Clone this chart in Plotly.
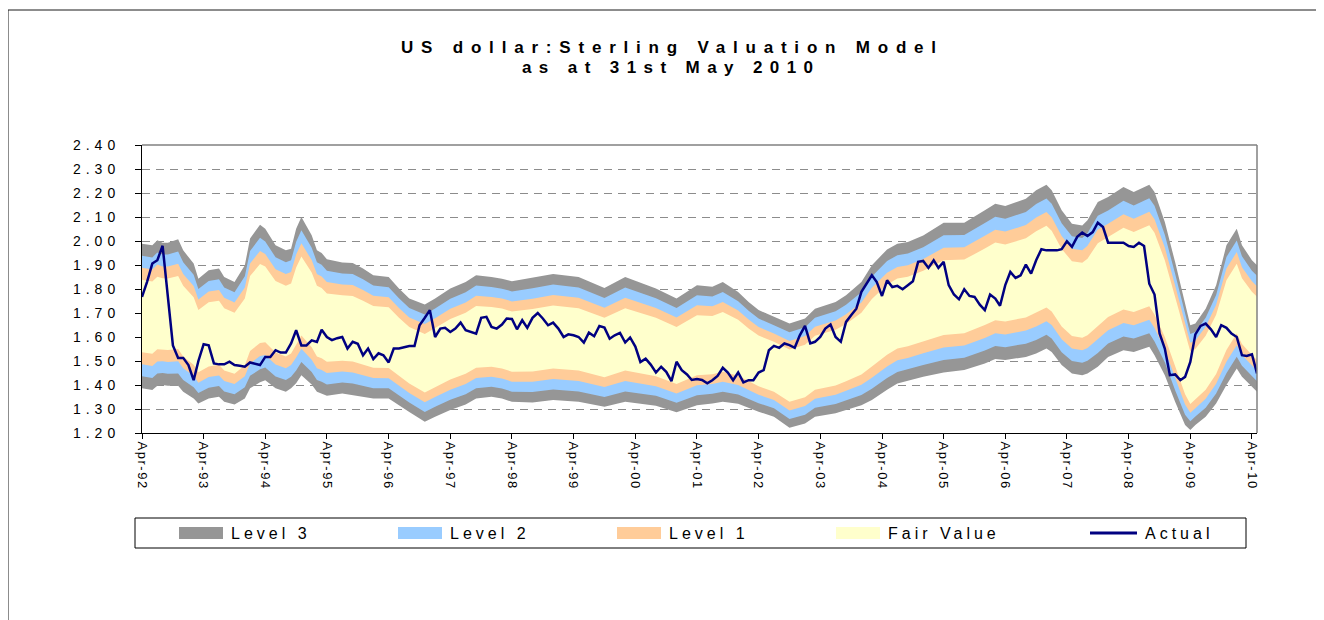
import pandas as pd
import plotly.graph_objects as go

# ---------------- DATA ----------------
# Valuation bands: outer (Level 3) upper and lower bounds
band_dates = [
    "1992-04", "1992-06", "1992-07", "1992-08", "1992-09", "1992-11", "1992-12",
    "1993-02", "1993-03", "1993-05", "1993-07", "1993-08", "1993-10", "1993-12",
    "1994-01", "1994-03", "1994-04", "1994-06", "1994-08", "1994-09", "1994-10",
    "1994-11", "1995-01", "1995-02", "1995-03", "1995-04", "1995-07", "1995-09",
    "1995-11", "1996-01", "1996-04", "1996-06", "1996-08", "1996-11", "1997-01",
    "1997-04", "1997-07", "1997-09", "1997-12", "1998-02", "1998-04", "1998-08",
    "1998-12", "1999-05", "1999-10", "2000-02", "2000-08", "2000-12", "2001-04",
    "2001-07", "2001-09", "2001-12", "2002-02", "2002-04", "2002-07", "2002-10",
    "2003-01", "2003-03", "2003-07", "2003-09", "2003-12", "2004-02", "2004-05",
    "2004-07", "2004-09", "2004-12", "2005-04", "2005-08", "2005-12", "2006-02",
    "2006-04", "2006-08", "2006-10", "2006-12", "2007-01", "2007-03", "2007-05",
    "2007-07", "2007-08", "2007-10", "2007-12", "2008-03", "2008-05", "2008-08",
    "2008-09", "2008-11", "2009-01", "2009-03", "2009-04", "2009-05", "2009-07",
    "2009-09", "2009-11", "2010-01", "2010-02", "2010-04", "2010-05",
]
level3_upper = [
    1.989, 1.982, 2.003, 1.993, 1.993, 2.007, 1.961,
    1.906, 1.843, 1.878, 1.885, 1.850, 1.829, 1.899,
    2.010, 2.068, 2.051, 1.982, 1.961, 1.968, 2.051,
    2.100, 2.024, 1.961, 1.950, 1.924, 1.910, 1.908,
    1.885, 1.857, 1.850, 1.802, 1.760, 1.735, 1.760,
    1.802, 1.829, 1.857, 1.850, 1.843, 1.832, 1.846,
    1.863, 1.850, 1.804, 1.850, 1.802, 1.760, 1.816,
    1.809, 1.829, 1.788, 1.746, 1.712, 1.684, 1.656,
    1.677, 1.718, 1.746, 1.774, 1.829, 1.899, 1.965,
    1.989, 1.996, 2.023, 2.076, 2.076, 2.128, 2.155,
    2.146, 2.176, 2.211, 2.234, 2.211, 2.128, 2.072,
    2.065, 2.086, 2.162, 2.183, 2.225, 2.204, 2.234,
    2.204, 2.079, 1.912, 1.746, 1.649, 1.656, 1.718,
    1.816, 1.982, 2.051, 1.982, 1.920, 1.899,
]
level3_lower = [
    1.386, 1.379, 1.397, 1.400, 1.397, 1.397, 1.372,
    1.344, 1.323, 1.344, 1.351, 1.330, 1.319, 1.344,
    1.386, 1.411, 1.420, 1.386, 1.372, 1.386, 1.407,
    1.441, 1.402, 1.372, 1.365, 1.355, 1.365, 1.361,
    1.351, 1.344, 1.344, 1.316, 1.288, 1.247, 1.268,
    1.296, 1.319, 1.344, 1.351, 1.344, 1.330, 1.327,
    1.337, 1.330, 1.309, 1.330, 1.314, 1.286, 1.316,
    1.323, 1.330, 1.322, 1.305, 1.289, 1.268, 1.222,
    1.240, 1.268, 1.282, 1.296, 1.316, 1.337, 1.380,
    1.406, 1.416, 1.434, 1.452, 1.462, 1.490, 1.508,
    1.504, 1.517, 1.531, 1.552, 1.538, 1.483, 1.448,
    1.441, 1.448, 1.476, 1.517, 1.545, 1.538, 1.559,
    1.524, 1.441, 1.330, 1.233, 1.212, 1.233, 1.268,
    1.323, 1.400, 1.469, 1.434, 1.393, 1.372,
]
# Band edges as a share of the Level 3 half-width around the fair value
band_names = ["Level 3", "Level 2", "Level 1", "Fair Value"]
band_share = [1.0, 0.833, 0.667, 0.5]
band_colors = ["#969696", "#99CCFF", "#FFCC99", "#FFFFCC"]

# Actual US dollar : sterling rate, monthly from Apr-92 to May-10
actual_name = "Actual"
actual_color = "#000080"
actual_start, actual_end = "1992-04", "2010-05"
actual_values = [
    1.767, 1.83, 1.906, 1.92, 1.98, 1.77, 1.565, 1.513, 1.513, 1.483, 1.42, 1.50,
    1.57, 1.565, 1.49, 1.486, 1.486, 1.497, 1.483, 1.48, 1.476, 1.494, 1.487, 1.483,
    1.517, 1.517, 1.545, 1.535, 1.535, 1.573, 1.628, 1.565, 1.565, 1.586, 1.579, 1.63,
    1.60, 1.587, 1.595, 1.60, 1.552, 1.58, 1.572, 1.524, 1.552, 1.508, 1.532, 1.524,
    1.494, 1.552, 1.552, 1.558, 1.562, 1.562, 1.649, 1.68, 1.712, 1.60, 1.635, 1.638,
    1.621, 1.635, 1.660, 1.628, 1.62, 1.614, 1.68, 1.684, 1.642, 1.635, 1.652, 1.677,
    1.675, 1.632, 1.670, 1.638, 1.680, 1.700, 1.677, 1.649, 1.660, 1.635, 1.600, 1.611,
    1.607, 1.600, 1.577, 1.618, 1.603, 1.646, 1.639, 1.593, 1.607, 1.617, 1.577, 1.598,
    1.56, 1.496, 1.51, 1.485, 1.452, 1.476, 1.455, 1.416, 1.497, 1.462, 1.444, 1.421,
    1.425, 1.421, 1.407, 1.42, 1.438, 1.472, 1.452, 1.420, 1.452, 1.411, 1.42, 1.42,
    1.452, 1.462, 1.545, 1.563, 1.555, 1.573, 1.566, 1.555, 1.607, 1.646, 1.573, 1.580,
    1.600, 1.635, 1.652, 1.600, 1.580, 1.663, 1.691, 1.718, 1.788, 1.822, 1.857, 1.829,
    1.771, 1.836, 1.808, 1.813, 1.799, 1.816, 1.832, 1.913, 1.917, 1.888, 1.920, 1.888,
    1.913, 1.816, 1.777, 1.757, 1.799, 1.771, 1.767, 1.735, 1.712, 1.777, 1.760, 1.730,
    1.816, 1.871, 1.846, 1.857, 1.902, 1.864, 1.920, 1.966, 1.961, 1.961, 1.961, 1.966,
    1.999, 1.976, 2.017, 2.035, 2.021, 2.037, 2.076, 2.058, 1.993, 1.993, 1.993, 1.993,
    1.979, 1.975, 1.993, 1.979, 1.822, 1.777, 1.615, 1.552, 1.441, 1.444, 1.420, 1.434,
    1.496, 1.611, 1.646, 1.656, 1.632, 1.600, 1.649, 1.638, 1.614, 1.600, 1.524, 1.521,
    1.528, 1.448,
]

x_tick_labels = ["Apr-92", "Apr-93", "Apr-94", "Apr-95", "Apr-96", "Apr-97", "Apr-98",
                 "Apr-99", "Apr-00", "Apr-01", "Apr-02", "Apr-03", "Apr-04", "Apr-05",
                 "Apr-06", "Apr-07", "Apr-08", "Apr-09", "Apr-10"]
y_tick_values = [1.2, 1.3, 1.4, 1.5, 1.6, 1.7, 1.8, 1.9, 2.0, 2.1, 2.2, 2.3, 2.4]

title_line1 = "US dollar:Sterling Valuation Model"
title_line2 = "as at 31st May 2010"

# ---------------- FIGURE ----------------
W, H = 1324, 620
OFF = 8                      # page body margin around the figure div
ML, MR, MT, MB = 134, 75, 137, 195
PW, PH = W - ML - MR, H - MT - MB
FONT = "Liberation Sans, Arial, sans-serif"


def px2x(page_px):
    return (page_px - OFF - ML) / PW


def py2y(page_py):
    return (H - MB - (page_py - OFF)) / PH


def spaced(text, ls):
    return f'<span style="letter-spacing:{ls}px">{text}</span>'


bdates = pd.to_datetime(band_dates)
mid = [(u + l) / 2 for u, l in zip(level3_upper, level3_lower)]
half = [(u - l) / 2 for u, l in zip(level3_upper, level3_lower)]

fig = go.Figure()
poly_x = list(bdates) + list(bdates[::-1])
for name, share, color in zip(band_names, band_share, band_colors):
    up = [m + share * h for m, h in zip(mid, half)]
    lo = [m - share * h for m, h in zip(mid, half)]
    fig.add_trace(go.Scatter(
        x=poly_x, y=up + lo[::-1], fill="toself", fillcolor=color,
        mode="lines", line=dict(width=0, color=color),
        name=name, hoverinfo="skip", showlegend=False,
    ))

actual_dates = pd.date_range(actual_start, actual_end, freq="MS")
fig.add_trace(go.Scatter(
    x=actual_dates, y=actual_values, mode="lines",
    line=dict(color=actual_color, width=2.5), name=actual_name, showlegend=False,
))

tick_dates = pd.to_datetime([f"{1992 + i}-04-01" for i in range(len(x_tick_labels))])

fig.update_layout(
    width=W, height=H,
    margin=dict(l=ML, r=MR, t=MT, b=MB, pad=0, autoexpand=False),
    paper_bgcolor="white", plot_bgcolor="white",
    font=dict(family=FONT, color="black", size=13),
    showlegend=False,
    xaxis=dict(
        type="date", range=[actual_dates[0], actual_dates[-1]],
        tickvals=tick_dates, ticktext=[spaced(t, 1.5) for t in x_tick_labels],
        tickangle=90, ticks="outside", ticklen=5, tickcolor="black",
        showline=True, linecolor="black", linewidth=1, showgrid=False,
        tickfont=dict(size=13, family=FONT), zeroline=False,
    ),
    yaxis=dict(
        range=[1.2, 2.4], tickvals=y_tick_values,
        ticktext=[spaced(f"{v:.2f}", 5) for v in y_tick_values],
        ticks="outside", ticklen=6, tickcolor="black",
        showline=True, linecolor="black", linewidth=1,
        showgrid=True, gridcolor="#8c8c8c", griddash="8px,6px", gridwidth=1,
        tickfont=dict(size=14, family=FONT), zeroline=False,
        ticklabelstandoff=12,
    ),
)

# plot-area top/right border, outer chart frame
fig.add_shape(type="line", xref="paper", yref="paper", x0=0, x1=1, y0=1, y1=1,
              line=dict(color="#808080", width=1.5), layer="above")
fig.add_shape(type="line", xref="paper", yref="paper", x0=1, x1=1, y0=0, y1=1,
              line=dict(color="#808080", width=1.5), layer="above")
fig.add_shape(type="line", xref="paper", yref="paper", x0=px2x(8), x1=px2x(1340),
              y0=py2y(10), y1=py2y(10), line=dict(color="#1a1a1a", width=1))
fig.add_shape(type="line", xref="paper", yref="paper", x0=px2x(8), x1=px2x(8),
              y0=py2y(10), y1=py2y(640), line=dict(color="#1a1a1a", width=1))

# title
fig.add_annotation(text="<b>" + spaced(title_line1, 7.8) + "</b>", xref="paper", yref="paper",
                   x=px2x(672), y=py2y(47), xanchor="center", yanchor="middle",
                   showarrow=False, font=dict(size=17, family=FONT, color="black"))
fig.add_annotation(text="<b>" + spaced(title_line2, 7.4) + "</b>", xref="paper", yref="paper",
                   x=px2x(671), y=py2y(67), xanchor="center", yanchor="middle",
                   showarrow=False, font=dict(size=17, family=FONT, color="black"))

# legend box with swatches
fig.add_shape(type="rect", xref="paper", yref="paper", x0=px2x(135), x1=px2x(1246),
              y0=py2y(518), y1=py2y(548), line=dict(color="black", width=1),
              fillcolor="white", layer="above")
swatch_left = [179, 398, 617, 836]
for name, color, sx in zip(band_names, band_colors, swatch_left):
    fig.add_shape(type="rect", xref="paper", yref="paper", x0=px2x(sx), x1=px2x(sx + 44),
                  y0=py2y(539), y1=py2y(527), line=dict(width=0), fillcolor=color,
                  layer="above")
    fig.add_annotation(text=spaced(name, 4), xref="paper", yref="paper",
                       x=px2x(sx + 50), y=py2y(533.5), xanchor="left", yanchor="middle",
                       showarrow=False, font=dict(size=16, family=FONT, color="black"))
fig.add_shape(type="line", xref="paper", yref="paper", x0=px2x(1090), x1=px2x(1137),
              y0=py2y(533), y1=py2y(533), line=dict(color=actual_color, width=3),
              layer="above")
fig.add_annotation(text=spaced(actual_name, 4), xref="paper", yref="paper",
                   x=px2x(1143), y=py2y(533.5), xanchor="left", yanchor="middle",
                   showarrow=False, font=dict(size=16, family=FONT, color="black"))

fig.write_html("out.html")
